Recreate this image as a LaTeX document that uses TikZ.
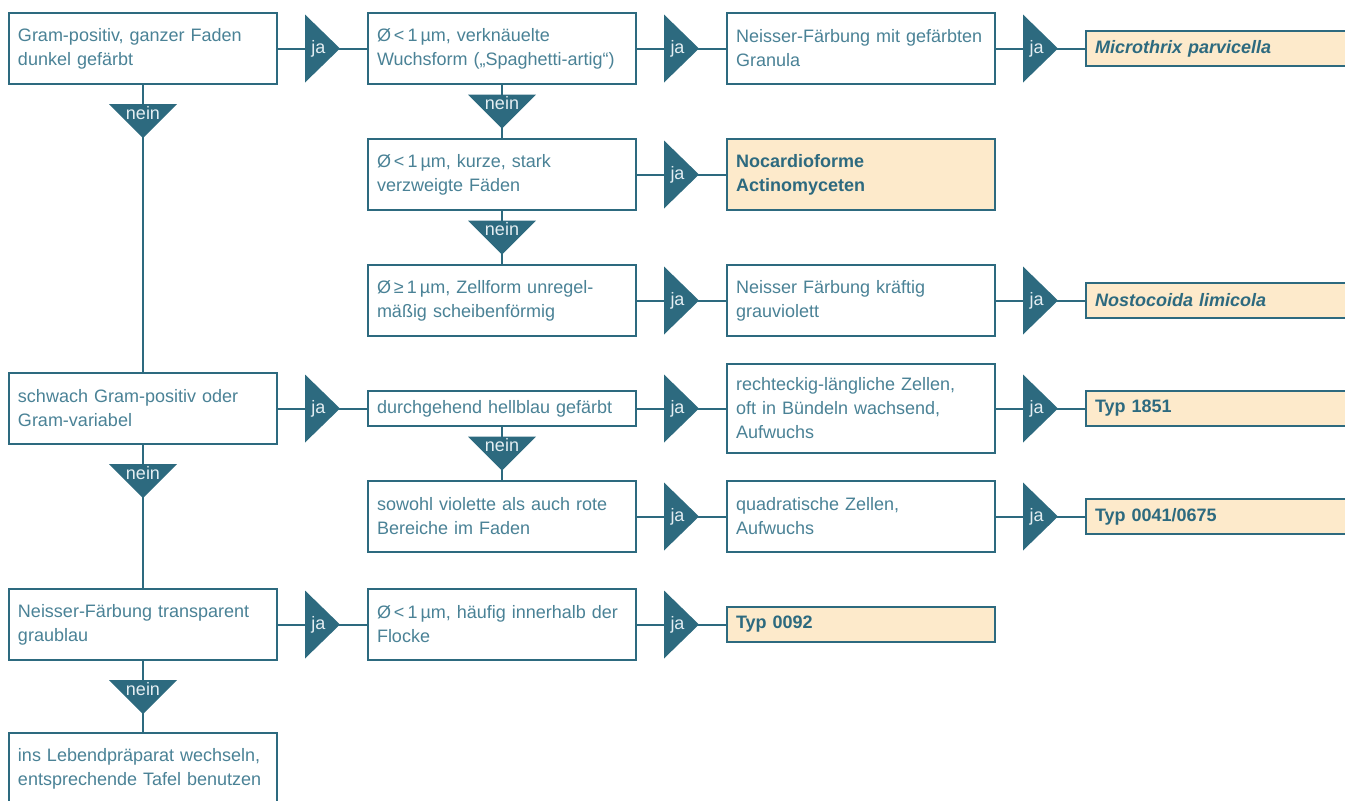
\documentclass[tikz,border=0pt]{standalone}
\usepackage{fontspec}
\setmainfont{Liberation Sans}
\usepackage{xcolor}
\definecolor{petrol}{HTML}{2D6A7F}
\definecolor{txt}{HTML}{4A8296}
\definecolor{hit}{HTML}{FDEACB}
\definecolor{tri}{HTML}{E4EEF2}
\usepackage{tikz}
\usetikzlibrary{calc}
\tikzset{
  box/.style={draw=petrol,line width=1pt,anchor=north west,inner xsep=4.5pt,inner ysep=2pt,
    text width=125pt,minimum height=35.5pt,align=left,text=txt,fill=white,
    font=\fontsize{9}{12}\selectfont},
  tbox/.style={box,minimum height=17.5pt},
  hbox/.style={box,fill=hit,text=petrol,font=\fontsize{9}{12}\selectfont\bfseries},
  conn/.style={draw=petrol,line width=1pt},
  lab/.style={text=tri,inner sep=0pt,font=\fontsize{9}{12}\selectfont},
  jatri/.pic={\fill[petrol] (-17.5,-34) -- (17.5,0) -- (-17.5,34) -- cycle; \node[lab] at (-4,0) {ja};},
  neintri/.pic={\fill[petrol] (-34,-17) -- (34,-17) -- (0,17) -- cycle; \node[lab] at (0,-8) {nein};},
}

\begin{document}
\begin{tikzpicture}[x=0.5pt,y=-0.5pt]
\useasboundingbox (0,0) rectangle (1345,800);
\clip (0,0) rectangle (1345,800);
% first column
\node[box] (grampos) at (8,12) {Gram-positiv, ganzer Faden\\dunkel gefärbt};
\node[box] (gramvar) at (8,372) {schwach Gram-positiv oder\\Gram-variabel};
\node[box] (neistr) at (8,588) {Neisser-Färbung transparent\\graublau};
\node[box] (live) at (8,732) {ins Lebendpräparat wechseln,\\entsprechende Tafel benutzen};
% second column
\node[box] (verkn) at (367,12) {Ø\,<\,1\,µm, verknäuelte\\Wuchsform („Spaghetti-artig“)};
\node[box] (kurz) at (367,138) {Ø\,<\,1\,µm, kurze, stark\\verzweigte Fäden};
\node[box] (zell) at (367,264) {Ø\,≥\,1\,µm, Zellform unregel-\\mäßig scheibenförmig};
\node[tbox] (hellbl) at (367,390) {durchgehend hellblau gefärbt};
\node[box] (viorot) at (367,480) {sowohl violette als auch rote\\Bereiche im Faden};
\node[box] (flocke) at (367,588) {Ø\,<\,1\,µm, häufig innerhalb der\\Flocke};
% third column
\node[box] (granula) at (726,12) {Neisser-Färbung mit gefärbten\\Granula};
\node[hbox] (nocard) at (726,138) {Nocardioforme\\Actinomyceten};
\node[box] (grauv) at (726,264) {Neisser Färbung kräftig\\grauviolett};
\node[box,minimum height=44.5pt] (recht) at (726,363) {rechteckig-längliche Zellen,\\oft in Bündeln wachsend,\\Aufwuchs};
\node[box] (quadr) at (726,480) {quadratische Zellen,\\Aufwuchs};
\node[hbox,minimum height=17.5pt] (typnull) at (726,606) {Typ 0092};
% results, cut at the right edge
\node[hbox,minimum height=17.5pt] (micro) at (1085,30) {\itshape Microthrix parvicella};
\node[hbox,minimum height=17.5pt] (nosto) at (1085,282) {\itshape Nostocoida limicola};
\node[hbox,minimum height=17.5pt] (typeins) at (1085,390) {Typ 1851};
\node[hbox,minimum height=17.5pt] (typvier) at (1085,498) {Typ 0041/0675};
% ja branches
\foreach \a/\b in {grampos/verkn,verkn/granula,granula/micro,kurz/nocard,zell/grauv,grauv/nosto,
  gramvar/hellbl,hellbl/recht,recht/typeins,viorot/quadr,quadr/typvier,neistr/flocke,flocke/typnull}{
  \draw[conn] (\a.east) -- (\b.west);
  \pic at ($(\a.east)!.5!(\b.west)$) {jatri};
}
% nein branches
\foreach \a/\b in {grampos/gramvar,gramvar/neistr,neistr/live}{
  \draw[conn] (\a.south) -- (\b.north);
  \pic at ($(\a.south)+(0,36)$) {neintri};
}
\foreach \a/\b in {verkn/kurz,kurz/zell,hellbl/viorot}{
  \draw[conn] (\a.south) -- (\b.north);
  \pic at ($(\a.south)!.5!(\b.north)$) {neintri};
}
\end{tikzpicture}
\end{document}
